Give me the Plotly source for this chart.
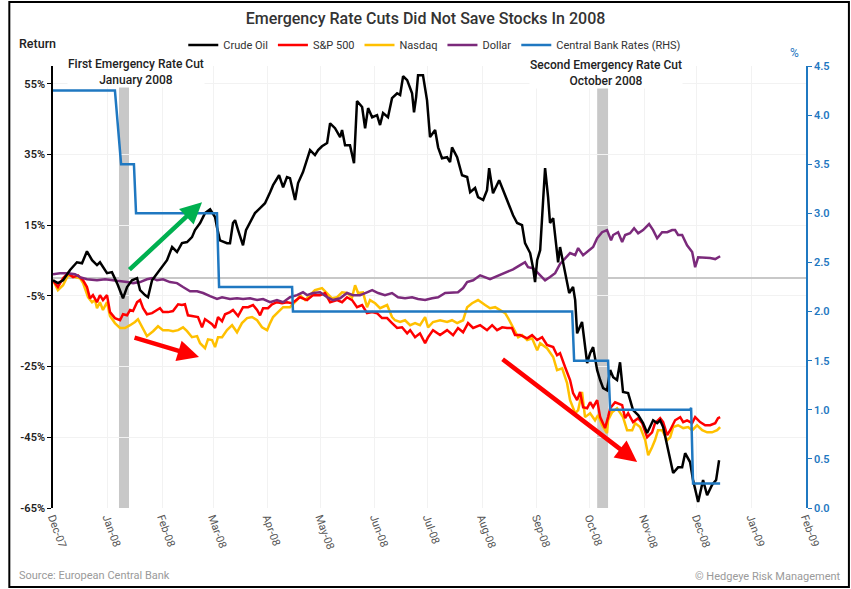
import pandas as pd
import plotly.graph_objects as go

BASE = pd.Timestamp("2007-12-01")

def to_dates(days):
    return [BASE + pd.to_timedelta(d, unit="D") for d in days]

# ---------------- data (day offsets from 2007-12-01, values in %) ----------------
oil_day = [0, 2.8, 5.7, 9.7, 13.6, 16.5, 19.3, 22.2, 25, 26.7, 30.7, 33.5, 36.4, 39.8, 42.1, 44.9,
           47.8, 49.5, 52.3, 54, 56.3, 59.1, 62, 64.8, 67.7, 70.5, 73.3, 76.2, 79, 80.7, 83.6, 86.4,
           89.3, 92.1, 93.2, 94.9, 98.9, 100.6, 102.3, 103.5, 105.2, 108, 109.7, 112, 114.8, 117.7,
           120.5, 123.4, 125.1, 128.5, 130.8, 133, 134.7, 137.6, 139.3, 142.1, 144.4, 146.1, 148.9,
           150.7, 152.9, 155.8, 157.5, 160.3, 163.2, 164.3, 166, 168.8, 171.1, 172.8, 175.7, 177.4,
           179.1, 181.4, 184.2, 185.9, 187.6, 190.4, 192.7, 195.6, 197.3, 199, 201.3, 204.1, 205.2,
           206.4, 207.5, 210.3, 212.6, 214.3, 217.2, 218.9, 221.1, 224, 225.7, 226.8, 229.7, 232.5,
           235.4, 237.1, 239.9, 241.6, 244.5, 246.7, 247.9, 250.1, 253.6, 255.8, 258.7, 261.5, 263.8,
           266.6, 268.3, 271.2, 272.9, 274, 275.2, 276.9, 278.6, 279.7, 281.4, 282.5, 284.3, 286,
           287.1, 288.2, 289.9, 292.2, 293.4, 295.6, 296.8, 297.9, 300.7, 303.6, 305.3, 307, 309.3,
           311, 312.7, 314.9, 316.7, 318.4, 320.6, 322.3, 324, 326.9, 329.7, 332.6, 335.4, 337.7,
           339.4, 341.1, 343.4, 345.1, 346.8, 349.6, 352.5, 355.3, 357.6, 359.3, 362.1, 363.8, 366.7,
           369.5, 371.8, 374.6, 376.9, 378.6]
oil_val = [-0.6, -1.4, -0.6, 2.3, 4.5, 4.2, 7.6, 5.1, 3.7, 4.5, 1.4, 1.7, -1.4, -5.7, -2.5, -0.6,
           0, -3.4, -4.8, -5.4, -0.6, 1.4, 3.1, 5.1, 8.8, 7.4, 9.9, 10.2, 11.6, 13.6, 15.6, 18.4,
           19.5, 17.3, 14.4, 10.7, 9.9, 9.9, 15.6, 16.4, 13.6, 9.3, 13.6, 15.6, 18.4, 19.8,
           21.2, 24.3, 26.3, 29.1, 25.7, 28.6, 28.3, 22.1, 26.9, 30.0, 33.9, 36.2, 34.8,
           36.2, 37.3, 38.2, 43.8, 42.4, 39.9, 41.9, 37.6, 37.6, 32.5, 50.1, 48.4, 42.4,
           48.1, 45.5, 46.1, 43.3, 46.7, 45.5, 50.9, 52.3, 51.8, 57.1, 56.0, 52.3, 46.9,
           51.2, 57.4, 57.4, 50.3, 39.9, 41.9, 37.0, 33.9, 34.2, 32.8, 37.0, 34.2, 29.1,
           28.6, 24.3, 25.5, 22.9, 22.1, 24.9, 31.1, 24.0, 27.7, 24.9, 21.2, 17.8, 15.6,
           15.0, 9.9, 7.1, 2.8, -1.1, 5.1, 7.9, 22.1, 31.1, 22.9, 15.6, 17.0, 10.2,
           4.5, 8.8, 4.2, -1.1, -4.2, -2.5, -6.2, -15.6, -12.4, -24.0, -21.2, -19.5, -26.0,
           -28.8, -31.1, -31.7, -26.0, -28.0, -28.8, -23.8, -32.2, -32.5, -37.3, -38.7, -41.0, -43.8,
           -42.1, -40.2, -41.0, -40.2, -42.1, -48.1, -55.1, -53.5, -53.5, -49.5, -52.0, -57.1, -63.3,
           -57.1, -61.4, -58.5, -57.1, -51.5]

spx_day = [0, 2.8, 5.7, 8.5, 11.4, 14.2, 17.1, 19.3, 21.0, 22.7, 25.0, 26.7, 28.4, 30.7, 32.4, 35.2,
           38.1, 39.8, 42.1, 43.8, 45.5, 47.8, 49.5, 51.2, 53.4, 56.3, 59.1, 60.8, 62.5, 65.4, 68.2,
           71.1, 73.3, 75.0, 76.7, 79.6, 82.4, 84.7, 86.4, 88.1, 90.4, 92.1, 93.8, 96.1, 97.8, 100.6,
           102.3, 105.2, 108.0, 110.9, 113.7, 116.0, 117.7, 119.4, 122.2, 124.5, 127.3, 130.2, 133.0,
           135.9, 138.7, 140.4, 144.4, 147.8, 151.8, 154.6, 157.5, 161.5, 164.3, 167.1, 170.0, 172.8,
           175.7, 178.5, 181.4, 184.2, 187.0, 189.9, 192.7, 195.6, 198.4, 201.3, 203.0, 205.8, 208.6,
           211.5, 213.2, 216.0, 220.0, 224.0, 227.4, 230.2, 233.1, 235.9, 238.8, 242.8, 246.7, 249.6,
           252.4, 255.3, 258.1, 260.9, 262.6, 265.5, 269.5, 272.3, 275.2, 278.0, 280.8, 284.3, 286.5,
           288.2, 291.1, 293.9, 295.6, 297.9, 299.6, 301.3, 303.6, 305.3, 307.0, 309.3, 311.0, 313.8,
           315.5, 316.7, 319.5, 321.2, 323.5, 325.2, 326.9, 329.7, 332.6, 334.9, 337.7, 340.5, 342.2,
           345.1, 346.8, 349.1, 350.8, 353.6, 356.5, 358.2, 360.4, 363.3, 365.0, 367.8, 370.7, 373.5,
           376.4, 378.0, 379.2]
spx_val = [-0.6, -2.5, 0, 1.4, 0.3, 0.8, -0.6, -2.5, -5.7, -4.8, -6.8, -4.8, -6.2, -4.8, -9.6, -11.3,
           -11.9, -10.2, -10.5, -9.0, -9.3, -6.8, -6.2, -8.5, -10.2, -9.9, -9.0, -8.5, -9.6, -9.6, -9.3,
           -7.4, -7.6, -7.4, -10.5, -10.7, -11.0, -13.9, -11.6, -12.2, -13.0, -14.1, -11.0, -12.2, -10.2, -9.6,
           -9.0, -10.7, -8.2, -8.2, -7.6, -9.0, -10.5, -8.5, -8.5, -7.4, -6.8, -7.1, -6.8,
           -7.1, -6.2, -5.4, -6.2, -4.8, -4.8, -4.2, -6.8, -6.2, -6.8, -5.4, -6.2, -8.2,
           -7.6, -9.9, -9.6, -9.9, -11.3, -11.3, -12.7, -14.1, -13.9, -15.6, -14.7, -16.7, -15.6,
           -18.4, -16.7, -14.7, -16.1, -14.7, -16.1, -14.1, -15.3, -12.7, -14.1, -13.3, -14.7, -13.3,
           -14.7, -13.9, -14.1, -14.1, -16.1, -16.1, -17.0, -16.1, -17.5, -16.7, -18.9, -19.5, -21.8,
           -21.2, -25.2, -28.8, -32.5, -34.5, -32.2, -36.5, -36.8, -35.1, -36.5, -34.5, -39.3, -42.4,
           -39.3, -36.8, -35.1, -35.4, -35.9, -39.6, -38.2, -40.7, -39.6, -41.0, -45.0, -43.6, -41.0,
           -39.6, -40.7, -44.4, -43.0, -40.2, -39.3, -40.7, -40.2, -41.0, -39.3, -40.7, -41.6, -41.6,
           -41.0, -39.6, -39.3]

ndx_day = [0, 2.8, 5.7, 8.5, 12.5, 15.3, 17.1, 19.9, 22.2, 23.9, 25.0, 26.7, 28.4, 30.7, 32.4, 35.2,
           38.1, 40.9, 43.8, 46.6, 48.3, 51.2, 53.4, 56.9, 59.7, 62.5, 65.4, 68.2, 71.1, 73.9, 76.2,
           79.0, 81.9, 83.6, 86.4, 88.1, 90.4, 92.1, 93.8, 96.1, 98.9, 101.8, 104.6, 107.4, 110.3, 113.1,
           116.0, 118.8, 121.7, 123.4, 125.1, 127.9, 130.8, 134.7, 138.7, 140.4, 143.3, 146.1, 148.9,
           152.9, 155.8, 158.6, 161.5, 164.3, 167.1, 170.0, 171.7, 173.4, 176.2, 178.5, 180.2, 183.1,
           185.9, 189.9, 192.7, 194.4, 197.3, 200.1, 203.0, 205.8, 208.6, 211.5, 213.2, 216.0, 220.0,
           224.0, 226.8, 229.7, 233.1, 235.4, 238.2, 241.6, 245.6, 248.4, 251.3, 254.1, 257.0, 258.7,
           261.5, 264.4, 266.6, 269.5, 272.3, 275.2, 276.9, 280.8, 284.3, 286.5, 289.4, 292.2, 293.9,
           296.8, 298.5, 300.7, 302.4, 305.3, 308.1, 309.8, 312.1, 314.9, 315.5, 317.8, 320.6, 322.3,
           324.0, 326.3, 329.2, 330.9, 333.7, 336.6, 338.3, 340.5, 342.2, 343.9, 346.2, 349.1, 350.8,
           352.5, 355.3, 358.2, 361.0, 363.3, 366.1, 369.0, 371.8, 374.6, 377.5, 379.2]
ndx_val = [-0.6, -3.4, -2.0, 0.8, 0.3, 0, -1.4, -5.4, -6.8, -6.2, -8.5, -6.8, -9.0, -6.8, -10.7, -12.7,
           -14.1, -14.1, -13.3, -12.4, -11.6, -14.1, -16.4, -15.0, -13.6, -14.7, -14.7, -15.0, -14.7, -13.9, -15.0,
           -16.7, -16.4, -18.4, -19.8, -17.3, -17.5, -19.5, -16.7, -16.7, -14.7, -13.3, -15.3, -12.7, -11.3, -11.0,
           -11.9, -13.9, -14.7, -12.7, -11.0, -9.6, -8.2, -8.2, -6.2, -4.8, -6.2, -4.8, -3.4,
           -2.8, -4.2, -5.7, -5.4, -4.0, -4.2, -5.4, -2.0, -4.2, -4.0, -8.2, -6.2, -7.1,
           -8.5, -7.6, -11.0, -11.9, -12.4, -11.9, -13.3, -12.7, -13.3, -11.0, -13.9, -12.4, -11.9,
           -12.4, -11.9, -12.7, -11.9, -8.2, -7.1, -6.2, -7.6, -8.5, -8.2, -9.0, -9.9, -11.3,
           -14.1, -16.7, -16.1, -17.5, -17.0, -20.4, -18.4, -19.8, -22.3, -26.0, -25.5, -29.7, -34.5,
           -38.2, -37.3, -32.2, -39.3, -38.2, -40.2, -38.7, -41.6, -43.8, -40.2, -37.9, -36.8, -37.9,
           -39.3, -43.0, -43.0, -41.0, -42.1, -45.8, -50.1, -47.8, -45.8, -43.0, -43.0, -45.8, -45.0,
           -42.1, -41.6, -42.4, -42.1, -43.0, -41.6, -43.0, -43.6, -43.6, -43.0, -42.1]

usd_day = [0, 4.0, 8.5, 12.5, 15.3, 19.3, 25.0, 29.6, 34.1, 38.1, 42.1, 45.5, 49.5, 53.4, 56.3, 59.1,
           62.5, 66.5, 70.5, 73.9, 77.9, 81.9, 85.3, 89.3, 93.2, 96.1, 100.6, 104.6, 108.0, 112.0, 116.0,
           119.4, 123.4, 127.3, 130.8, 134.7, 138.7, 142.1, 144.4, 147.8, 151.8, 155.8, 159.2, 163.2, 167.1,
           170.6, 174.5, 178.5, 181.4, 184.8, 188.7, 192.7, 196.1, 200.1, 204.1, 207.5, 211.5, 215.5, 218.9,
           222.9, 226.8, 230.2, 233.1, 235.4, 238.8, 242.8, 248.4, 252.4, 258.1, 261.5, 265.5, 268.3, 270.0,
           272.9, 275.7, 279.7, 282.5, 285.4, 288.2, 291.1, 293.9, 296.8, 298.5, 301.3, 303.6, 307.0, 309.3,
           312.1, 314.9, 317.2, 318.4, 321.2, 323.5, 325.2, 328.0, 330.3, 332.6, 335.4, 338.8, 341.1, 343.4,
           346.2, 349.1, 351.9, 353.6, 355.3, 357.6, 360.4, 363.3, 365.0, 366.7, 369.5, 373.5, 376.4, 379.2]
usd_val = [1.1, 1.4, 1.4, 1.1, 0.3, -0.3, -0.6, -0.3, -0.6, -0.8, -1.1, -1.4, -1.1, -0.3, 0, -0.6,
           -0.3, -1.1, -1.4, -2.5, -3.7, -3.7, -4.2, -5.1, -5.9, -5.4, -5.9, -5.7, -5.9, -5.7, -6.2,
           -5.9, -6.8, -6.2, -6.8, -5.4, -4.8, -4.0, -4.8, -4.2, -4.0, -5.4, -6.2, -5.7, -4.2,
           -4.8, -4.8, -4.0, -3.4, -4.2, -4.8, -4.2, -5.4, -5.7, -5.4, -5.9, -6.2, -5.7, -5.4,
           -4.2, -4.2, -4.0, -2.8, -1.1, -0.6, 0.8, -0.3, 0.6, 1.7, 2.5, 3.7, 4.5, 3.1,
           2.8, 1.4, -0.6, 0.3, 1.4, 4.0, 5.7, 7.1, 6.5, 8.5, 6.5, 7.4, 8.8, 11.3,
           13.0, 13.6, 10.7, 12.2, 13.0, 10.2, 12.2, 12.7, 14.1, 12.7, 13.6, 15.3, 13.6, 11.3,
           13.0, 13.0, 13.6, 13.6, 12.2, 12.2, 9.3, 7.4, 3.1, 5.9, 5.9, 5.7, 5.4, 6.2]

rate_day = [0, 35.2, 38.7, 46.0, 47.2, 93.2, 94.4, 135.9, 136.4, 295.1, 296.2, 315.5, 316.7,
            362.1, 362.7, 363.8, 379.2]
rate_val = [4.25, 4.25, 3.5, 3.5, 3.0, 3.0, 2.25, 2.25, 2.0, 2.0, 1.5, 1.5, 1.0, 1.0, 1.02, 0.25, 0.25]

cut_windows = [(37.5, 43.2), (309.3, 315.5)]
left_ticks = [-65, -45, -25, -5, 15, 35, 55]
left_labels = ["-65%", "-45%", "-25%", "-5%", "15%", "35%", "55%"]
right_ticks = [0.0, 0.5, 1.0, 1.5, 2.0, 2.5, 3.0, 3.5, 4.0, 4.5]

BLUE = "#1f78c1"
FONT = "Roboto, 'Open Sans', sans-serif"

fig = go.Figure()
fig.add_trace(go.Scatter(x=to_dates(ndx_day), y=ndx_val, mode="lines", name="Nasdaq",
                         line=dict(color="#FFC000", width=2.5), legendrank=3))
fig.add_trace(go.Scatter(x=to_dates(spx_day), y=spx_val, mode="lines", name="S&P 500",
                         line=dict(color="#FF0000", width=2.5), legendrank=2))
fig.add_trace(go.Scatter(x=to_dates(usd_day), y=usd_val, mode="lines", name="Dollar",
                         line=dict(color="#7B2A7B", width=2.5), legendrank=4))
fig.add_trace(go.Scatter(x=to_dates(oil_day), y=oil_val, mode="lines", name="Crude Oil",
                         line=dict(color="#000000", width=2.5), legendrank=1))
fig.add_trace(go.Scatter(x=to_dates(rate_day), y=rate_val, mode="lines", name="Central Bank Rates (RHS)",
                         line=dict(color=BLUE, width=2.5), yaxis="y2", legendrank=5))

for d0, d1 in cut_windows:
    fig.add_vrect(x0=to_dates([d0])[0], x1=to_dates([d1])[0], fillcolor="#c8c8c8",
                  opacity=1, line_width=0, layer="below")

def arrow(t_day, t_val, h_day, h_val, color):
    fig.add_annotation(x=to_dates([h_day])[0], y=h_val, ax=to_dates([t_day])[0], ay=t_val,
                       xref="x", yref="y", axref="x", ayref="y", text="", showarrow=True,
                       arrowhead=2, arrowsize=0.95, arrowwidth=4.5, arrowcolor=color)

arrow(42.6, 2.0, 84.7, 21.5, "#00B050")
arrow(45.5, -16.7, 83.0, -22.3, "#FF0000")
arrow(254.7, -22.6, 332.0, -52.0, "#FF0000")

ann_font = dict(family=FONT, size=12, color="#222222", weight=500)
fig.add_annotation(x=0.110, y=0.987, xref="paper", yref="paper", text="First Emergency Rate Cut<br>January 2008",
                   showarrow=False, font=ann_font, bgcolor="white", xanchor="center", yanchor="middle", borderpad=0)
fig.add_annotation(x=0.734, y=0.985, xref="paper", yref="paper", text="Second Emergency Rate Cut<br>October 2008",
                   showarrow=False, font=ann_font, bgcolor="white", xanchor="center", yanchor="middle", borderpad=0)

fig.add_annotation(x=-0.048, y=1.050, xref="paper", yref="paper", text="Return", showarrow=False,
                   xanchor="left", yanchor="middle", font=dict(family=FONT, size=12.5, color="#222222", weight=500))
fig.add_annotation(x=0.985, y=1.030, xref="paper", yref="paper", text="%", showarrow=False,
                   xanchor="center", yanchor="middle", font=dict(family=FONT, size=12, color=BLUE))
fig.add_annotation(x=-0.048, y=-0.152, xref="paper", yref="paper", text="Source: European Central Bank",
                   showarrow=False, xanchor="left", yanchor="middle", font=dict(family=FONT, size=11, color="#9a9a9a"))
fig.add_annotation(x=1.049, y=-0.156, xref="paper", yref="paper", text="© Hedgeye Risk Management",
                   showarrow=False, xanchor="right", yanchor="middle", font=dict(family=FONT, size=11, color="#9a9a9a"))

# outer frame
fig.add_shape(type="rect", xref="paper", yref="paper", x0=-0.058, x1=1.057, y0=-0.179, y1=1.145,
              line=dict(color="black", width=2), fillcolor="rgba(0,0,0,0)", layer="above")

fig.update_layout(
    width=851, height=589,
    margin=dict(l=53, r=45, t=66, b=81),
    paper_bgcolor="white", plot_bgcolor="white",
    font=dict(family=FONT, color="#333333"),
    title=dict(text="Emergency Rate Cuts Did Not Save Stocks In 2008", x=0.5, xanchor="center",
               y=1 - 18 / 589, yanchor="middle", yref="container",
               font=dict(family=FONT, size=16, color="#333333", weight=500)),
    showlegend=True,
    legend=dict(orientation="h", x=0.507, xanchor="center", y=1.0475, yanchor="middle",
                font=dict(family=FONT, size=11, color="#333333"), itemwidth=30,
                bgcolor="rgba(0,0,0,0)", traceorder="normal", itemclick=False),
    xaxis=dict(type="date", range=["2007-12-01", "2009-02-01"], dtick="M1", tick0="2007-12-01",
               tickformat="%b-%y", tickangle=70, showgrid=True, gridcolor="#f2f2f2",
               showline=False, zeroline=False, ticks="", automargin=False,
               tickfont=dict(family=FONT, size=11, color="#555555")),
    yaxis=dict(range=[-65, 60], tickvals=left_ticks, ticktext=left_labels, showgrid=True,
               gridcolor="#f2f2f2", zeroline=True, zerolinecolor="#c8c8c8", zerolinewidth=1.5,
               showline=True, linecolor="black", linewidth=1.5, ticks="outside", ticklen=4,
               tickcolor="black", automargin=False,
               tickfont=dict(family=FONT, size=11, color="#222222", weight=600)),
    yaxis2=dict(range=[0, 4.5], tickvals=right_ticks, tickformat=".1f", overlaying="y", side="right",
                showgrid=False, zeroline=False, showline=True, linecolor=BLUE, linewidth=1.5,
                ticks="outside", ticklen=4, tickcolor=BLUE, automargin=False,
                tickfont=dict(family=FONT, size=11, color=BLUE, weight=600)),
)

fig.write_html("out.html")
